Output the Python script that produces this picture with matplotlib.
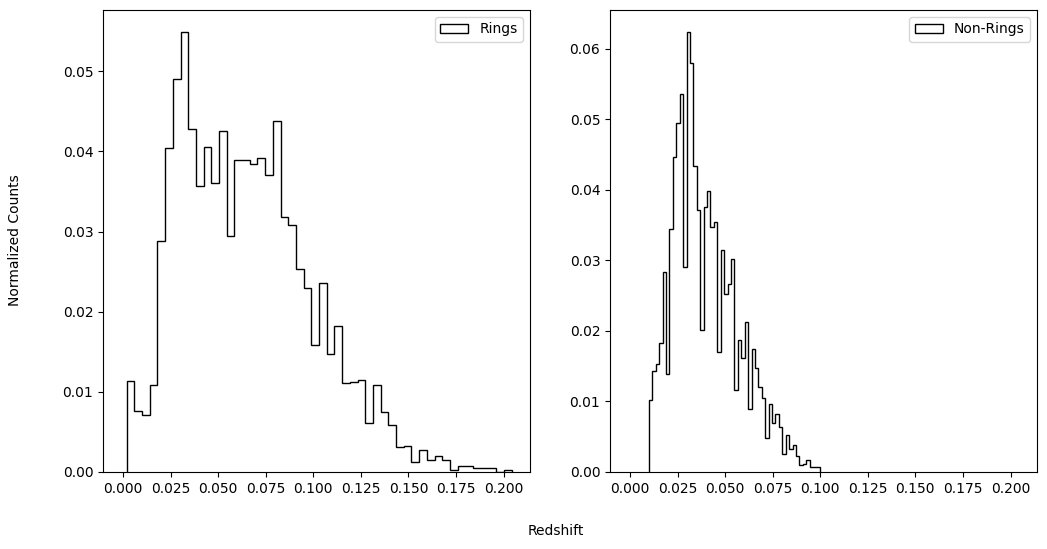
import numpy as np
import matplotlib
matplotlib.use('Agg')
import matplotlib.pyplot as plt

# bin ranges of each sample (50 bins each)
rings_range = (0.0019, 0.2042)
nonrings_range = (0.0100, 0.0998)

# normalized counts per bin
rings_vals = [
    0.01135, 0.0076, 0.0071, 0.0108, 0.0288, 0.0404, 0.0490, 0.0549, 0.0428, 0.0357,
    0.0406, 0.0361, 0.0425, 0.0295, 0.0389, 0.0389, 0.0384, 0.0392, 0.0371, 0.0438,
    0.0318, 0.0308, 0.0253, 0.0230, 0.0159, 0.0236, 0.0147, 0.0182, 0.0111, 0.0112,
    0.0115, 0.0061, 0.0108, 0.0075, 0.0059, 0.0031, 0.0032, 0.0012, 0.0027, 0.0015,
    0.0020, 0.0015, 0.00025, 0.0007, 0.0007, 0.0005, 0.0005, 0.0005, 0.0, 0.0002,
]
nonrings_vals = [
    0.0102, 0.0143, 0.0153, 0.0183, 0.0283, 0.0139, 0.0344, 0.0447, 0.0495, 0.0536,
    0.0291, 0.0624, 0.0580, 0.0434, 0.0371, 0.0201, 0.0376, 0.0398, 0.0347, 0.0355,
    0.0170, 0.0315, 0.0253, 0.0267, 0.0302, 0.0116, 0.0187, 0.0161, 0.0213, 0.0090,
    0.0175, 0.0148, 0.0120, 0.0105, 0.0048, 0.0097, 0.0070, 0.0082, 0.0064, 0.0025,
    0.0053, 0.0032, 0.0038, 0.0023, 0.0010, 0.0011, 0.0017, 0.0007, 0.0007, 0.00075,
]

fig = plt.figure(figsize=(10.47, 5.49), dpi=100)
ax1 = fig.add_axes([0.0984, 0.1403, 0.4078, 0.8415])
ax2 = fig.add_axes([0.5826, 0.1403, 0.4078, 0.8415], sharex=ax1)

for ax, rng, vals, label in [(ax1, rings_range, rings_vals, 'Rings'),
                             (ax2, nonrings_range, nonrings_vals, 'Non-Rings')]:
    edges = np.linspace(rng[0], rng[1], len(vals) + 1)
    ax.hist(edges[:-1], bins=edges, weights=vals, histtype='step',
            color='black', label=label)
    ax.legend(loc='upper right')

ax1.set_xlim(-0.0105, 0.2139)
ax1.set_xticks(np.arange(0, 0.201, 0.025))
fig.text(0.531, 0.033, 'Redshift', ha='center', va='center')
fig.text(0.0143, 0.563, 'Normalized Counts', ha='center', va='center',
         rotation='vertical')

fig.savefig('out.png', dpi=100)
